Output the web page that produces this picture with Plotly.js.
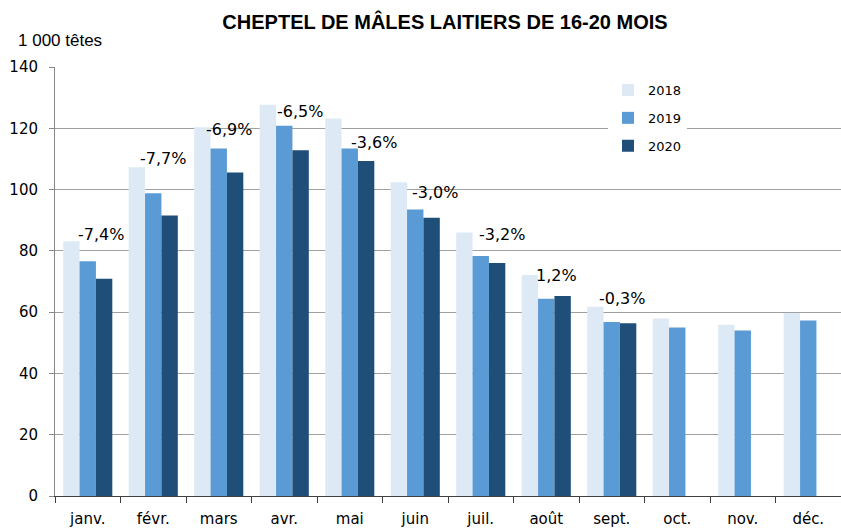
<!DOCTYPE html>
<html>
<head>
<meta charset="utf-8">
<script src="https://cdn.plot.ly/plotly-3.0.1.min.js"></script>
<style>html,body{margin:0;padding:0;background:#fff;}#chart{width:841px;height:529px;}</style>
</head>
<body>
<div id="chart"></div>
<script>
const months = ["janv.","févr.","mars","avr.","mai","juin","juil.","août","sept.","oct.","nov.","déc."];
const v2018 = [83.1,107.3,120.3,127.7,123.2,102.4,86.0,72.1,61.8,57.9,55.9,59.7];
const v2019 = [76.6,98.8,113.4,120.8,113.4,93.5,78.3,64.4,56.8,55.0,54.0,57.3];
const v2020 = [70.9,91.5,105.6,112.8,109.3,90.8,76.0,65.3,56.4,null,null,null];
const changeLabels = ["-7,4%","-7,7%","-6,9%","-6,5%","-3,6%","-3,0%","-3,2%","1,2%","-0,3%"];

// label placement (layout only)
const labelY = [85.3,110.1,119.6,125.4,115.3,99.2,85.5,71.9,64.6];
const labelShift = [13,10,10,16,24,20,21,10,10];

const colors = {"2018":"#ddeaf6","2019":"#5b9bd5","2020":"#1f4e79"};
const traces = [["2018",v2018],["2019",v2019],["2020",v2020]].map(([name,vals],i)=>({
  type:"bar", name:name, x:months, y:vals, legendgroup:"g"+i,
  marker:{color:colors[name], line:{width:0}}, hoverinfo:"y"
}));

const annotations = changeLabels.map((t,i)=>({
  x:months[i], y:labelY[i], xref:"x", yref:"y", text:t, showarrow:false,
  xshift:labelShift[i], font:{family:"DejaVu Sans", size:16, color:"#000"}
}));
annotations.push({
  xref:"paper", yref:"paper", x:-55/786+16/786, xanchor:"left", y:1+(67-40)/429, yanchor:"middle",
  text:"1 000 têtes", showarrow:false, font:{family:"Liberation Sans Narrow, Arial Narrow, sans-serif", size:17, color:"#000"}
});

const layout = {
  width:841, height:529,
  margin:{l:55, r:0, t:67, b:33},
  paper_bgcolor:"#fff", plot_bgcolor:"#fff",
  title:{text:"<b>CHEPTEL DE MÂLES LAITIERS DE 16-20 MOIS</b>", x:445/841, xanchor:"center", y:1-22/529, yanchor:"middle",
    font:{family:"Liberation Sans Narrow, Arial Narrow, sans-serif", size:20, color:"#000"}},
  barmode:"group", bargap:0.25, bargroupgap:0,
  showlegend:true,
  legend:{x:(608-55)/786, xanchor:"left", y:(496-75)/429, yanchor:"top", bgcolor:"#fff",
    traceorder:"grouped", tracegroupgap:8, font:{family:"DejaVu Sans", size:13, color:"#000"}},
  xaxis:{type:"category", tickson:"boundaries", ticks:"outside", ticklen:6, tickcolor:"#404040",
    showline:true, linecolor:"#404040", linewidth:1, showgrid:false, zeroline:false, ticklabelstandoff:9,
    tickfont:{family:"DejaVu Sans", size:15, color:"#000"}, range:[-0.5,11.5]},
  yaxis:{range:[0,140], dtick:20, ticks:"outside", ticklen:5, tickcolor:"#868686",
    showline:true, linecolor:"#868686", linewidth:1, showgrid:true, gridcolor:"#a0a0a0", gridwidth:1,
    zeroline:false, ticklabelstandoff:8, tickfont:{family:"DejaVu Sans", size:15, color:"#000"}},
  annotations:annotations
};
Plotly.newPlot("chart", traces, layout, {displayModeBar:false, staticPlot:true});
</script>
</body>
</html>
